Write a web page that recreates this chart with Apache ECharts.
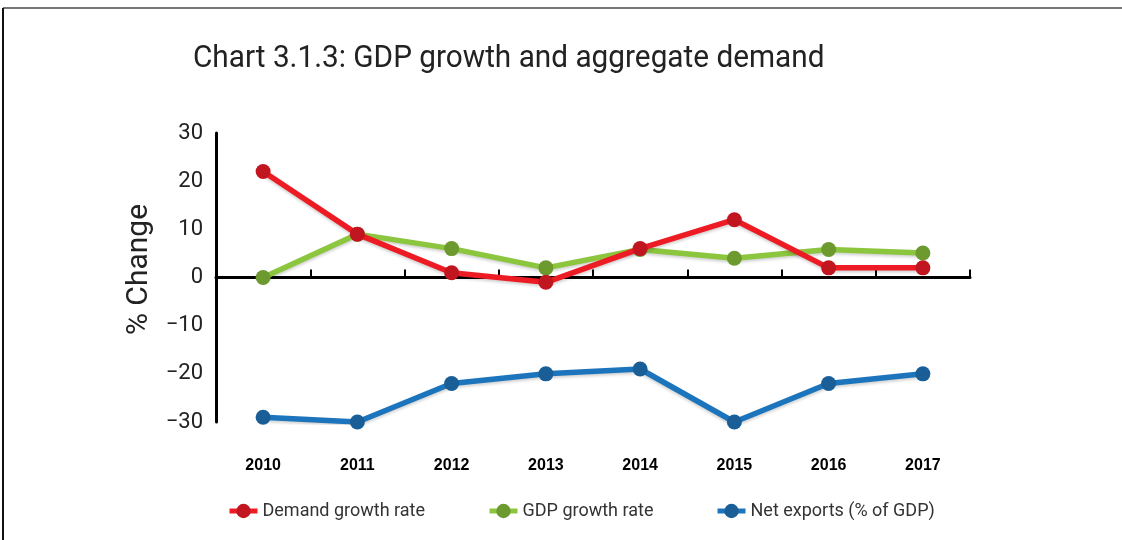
<!DOCTYPE html>
<html>
<head>
<meta charset="utf-8">
<title>Chart 3.1.3: GDP growth and aggregate demand</title>
<script src="https://cdn.jsdelivr.net/npm/echarts@6/dist/echarts.min.js"></script>
<style>
  html, body { margin: 0; padding: 0; background: #fff; }
  #chart { width: 1122px; height: 540px; }
</style>
</head>
<body>
<div id="chart"></div>
<script>
// Years on the category axis
const years = ['2010', '2011', '2012', '2013', '2014', '2015', '2016', '2017'];

// Annual series, % change
const demandGrowth = [22, 9, 1, -1, 6, 12, 2, 2];
const gdpGrowth = [0, 9, 6, 2, 5.8, 4, 5.8, 5.1];
const netExports = [-29, -30, -22, -20, -19, -30, -22, -20];

// Value-axis range and step
const yMin = -30;
const yMax = 30;
const yStep = 10;

const chartTitle = 'Chart 3.1.3: GDP growth and aggregate demand';
const textFont = "'Roboto', 'Liberation Sans', sans-serif";

const chart = echarts.init(document.getElementById('chart'), null, { renderer: 'canvas' });

function lineSeries(name, data, lineColor, markColor, z) {
  return {
    name: name,
    type: 'line',
    data: data,
    xAxisIndex: 0,
    z: z,
    symbol: 'circle',
    symbolSize: 15,
    itemStyle: { color: markColor },
    lineStyle: {
      color: lineColor,
      width: 5.5,
      shadowColor: 'rgba(0,0,0,0.18)',
      shadowBlur: 3,
      shadowOffsetY: 2
    },
    emphasis: { disabled: true },
    animation: false
  };
}

function legendAt(left, name) {
  return {
    left: left,
    top: 497,
    data: [name],
    itemWidth: 28,
    itemHeight: 18,
    selectedMode: false,
    lineStyle: { width: 5, shadowBlur: 0 },
    textStyle: {
      fontFamily: textFont,
      fontSize: 18,
      color: '#333',
      padding: [0, 0, 0, 0]
    }
  };
}

chart.setOption({
  backgroundColor: '#fff',
  animation: false,
  legend: [
    legendAt(222, 'Demand growth rate'),
    legendAt(482, 'GDP growth rate'),
    legendAt(710, 'Net exports (% of GDP)')
  ],
  grid: { left: 216, right: 152, top: 133, bottom: 118, containLabel: false },
  xAxis: [
    {
      // axis line drawn through zero, with tick marks between years
      type: 'category',
      data: years,
      boundaryGap: true,
      axisLine: { onZero: true, lineStyle: { color: '#000', width: 3 } },
      axisTick: { show: true, inside: true, length: 8, lineStyle: { color: '#000', width: 2 } },
      axisLabel: { show: false },
      splitLine: { show: false }
    },
    {
      // year labels along the bottom of the plot
      type: 'category',
      data: years,
      position: 'bottom',
      boundaryGap: true,
      axisLine: { show: false, onZero: false },
      axisTick: { show: false },
      axisLabel: {
        margin: 36,
        fontFamily: "'Liberation Sans', Arial, sans-serif",
        fontWeight: 'bold',
        fontSize: 16,
        color: '#000'
      },
      splitLine: { show: false }
    }
  ],
  yAxis: {
    type: 'value',
    min: yMin,
    max: yMax,
    interval: yStep,
    name: '% Change',
    nameLocation: 'middle',
    nameGap: 54,
    nameRotate: 90,
    nameTextStyle: {
      fontFamily: textFont,
      fontSize: 30,
      color: '#222',
      padding: [0, 0, 0, 16]
    },
    axisLine: { show: true, lineStyle: { color: '#000', width: 3 } },
    axisTick: { show: false },
    splitLine: { show: false },
    axisLabel: {
      margin: 13,
      fontFamily: textFont,
      fontSize: 22,
      color: '#222',
      formatter: function (v) { return v < 0 ? '\u2212' + Math.abs(v) : String(v); }
    }
  },
  graphic: [
    {
      // chart heading, narrowed horizontally
      type: 'text',
      left: 193,
      top: 43,
      scaleX: 0.93,
      originX: 0,
      style: {
        text: chartTitle,
        font: "normal 32px 'Roboto', sans-serif",
        fill: '#222'
      },
      silent: true
    },
    {
      type: 'line',
      shape: { x1: 3, y1: 8, x2: 1122, y2: 8 },
      style: { stroke: '#777', lineWidth: 2 },
      silent: true
    },
    {
      type: 'line',
      shape: { x1: 3, y1: 8, x2: 3, y2: 540 },
      style: { stroke: '#111', lineWidth: 2 },
      silent: true
    }
  ],
  series: [
    lineSeries('Demand growth rate', demandGrowth, '#ed1c24', '#c1161f', 4),
    lineSeries('GDP growth rate', gdpGrowth, '#8cc63e', '#6c9a2e', 3),
    lineSeries('Net exports (% of GDP)', netExports, '#1c75bc', '#1a5e98', 3)
  ]
});
</script>
</body>
</html>
